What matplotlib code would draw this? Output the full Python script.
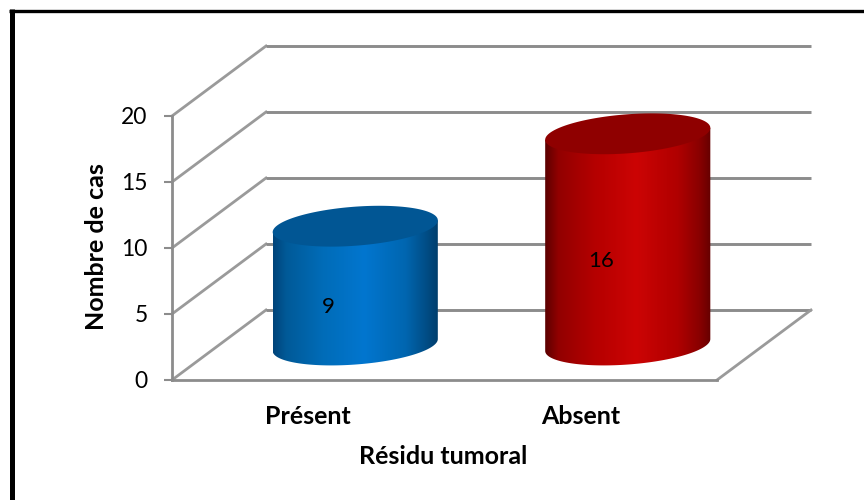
import numpy as np
import matplotlib.pyplot as plt
from matplotlib.colors import LinearSegmentedColormap
from matplotlib.lines import Line2D
from matplotlib.patches import Polygon

plt.rcParams["font.family"] = ["Lato", "DejaVu Sans"]

categories = ["Présent", "Absent"]
values = [9, 16]
yticks = [0, 5, 10, 15, 20]
side_pos = [0, 0.08, 0.3, 0.55, 0.8, 0.93, 1]
side_stops = [
    ["#00447a", "#005a98", "#006cb8", "#0276cf", "#0066b0", "#004c84", "#003d6b"],
    ["#5c0000", "#920000", "#b50000", "#cc0404", "#b00000", "#8a0000", "#660000"],
]
top_colors = ["#015694", "#8f0000"]

GRID = "#8c8c8c"
DIAG = "#9a9a9a"
W, H = 864, 500
DX, DY = 94 / 272.5, 70 / 13.2  # depth of the 3d box in data units
RX, TILT, RY = 0.303, 0.45, 1.48  # cylinder ellipse

fig = plt.figure(figsize=(W / 100, H / 100), dpi=100)
ax = fig.add_axes([172 / W, 1 - 380 / H, 545 / W, 264 / H])
ax.set_xlim(0, 2)
ax.set_ylim(0, 20)
ax.patch.set_visible(False)

# box behind the bars
for v in yticks:
    ax.plot([0, DX], [v, v + DY], color=DIAG, lw=2, clip_on=False, zorder=1)
    ax.plot([DX, 2 + DX], [v + DY, v + DY], color=GRID, lw=2.1, clip_on=False,
            zorder=1, solid_capstyle="butt")
ax.plot([2, 2 + DX], [0, DY], color=DIAG, lw=2, clip_on=False, zorder=1)

t = np.linspace(0, 2 * np.pi, 200)
for i, val in enumerate(values):
    cx = i + 0.5 + DX / 2
    base = DY / 2
    top = base + val
    ex = RX * np.cos(t)
    ey = TILT * np.cos(t) + RY * np.sin(t)
    # side of the cylinder: lower half of base + upper edge through the top
    lower = t >= np.pi
    lx, ly = cx + ex[lower], base + ey[lower]
    side = np.r_[np.c_[lx, ly], [[cx + RX, top + TILT]], [[cx - RX, top - TILT]]]
    cmap = LinearSegmentedColormap.from_list("side", list(zip(side_pos, side_stops[i])))
    im = ax.imshow(np.linspace(0, 1, 256)[None, :], cmap=cmap, aspect="auto",
                   extent=[cx - RX, cx + RX, base - 3, top + 3], zorder=3)
    clip = Polygon(side, closed=True, transform=ax.transData)
    im.set_clip_path(clip)
    ax.add_patch(Polygon(np.c_[cx + ex, top + ey], closed=True, fc=top_colors[i],
                         ec="none", clip_on=False, zorder=4))
    ax.text(i + 0.573, val / 2 + 1.05, str(val), ha="center", va="center",
            fontsize=16, color="black", zorder=5)

ax.set_xlim(0, 2)
ax.set_ylim(0, 20)

ax.set_xticks([0.5, 1.5], categories, fontsize=18, fontweight="bold")
ax.set_yticks(yticks)
ax.tick_params(axis="x", length=0, pad=18)
ax.tick_params(axis="y", length=5.5, width=1.5, color=GRID, labelsize=16.5, pad=12)
for s in ["top", "right"]:
    ax.spines[s].set_visible(False)
for s in ["left", "bottom"]:
    ax.spines[s].set_color(GRID)
    ax.spines[s].set_linewidth(2)

fig.text(443 / W, 1 - 457 / H, "Résidu tumoral", ha="center", va="center",
         fontsize=18, fontweight="bold")
fig.text(97 / W, 1 - 247 / H, "Nombre de cas", ha="center", va="center", rotation=90,
         fontsize=18, fontweight="bold")

# black frame, only left and top reach inside the picture
fig.add_artist(Line2D([11.5 / W, 11.5 / W], [0, 1 - 9 / H], color="black", lw=3.6,
                      solid_capstyle="butt"))
fig.add_artist(Line2D([9 / W, 1], [1 - 10.5 / H, 1 - 10.5 / H], color="black", lw=2.4,
                      solid_capstyle="butt"))

fig.savefig("out.png", dpi=100)
